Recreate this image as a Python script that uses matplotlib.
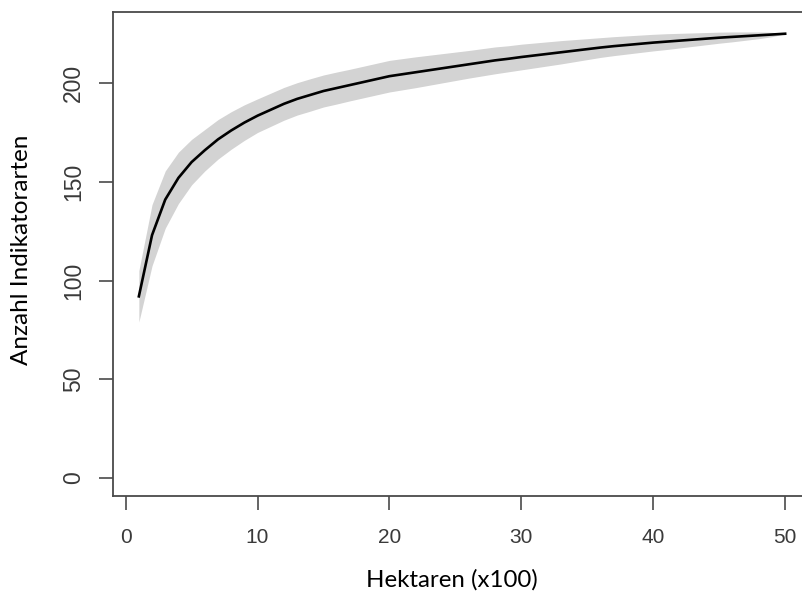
import numpy as np
import matplotlib.pyplot as plt

# Hektaren (x100)
hektaren = list(range(1, 51))

# mittlere Anzahl Indikatorarten
arten = [92, 123, 141, 152, 160, 166, 171.5, 176, 180, 183.5,
         186.5, 189.5, 192, 194, 196, 197.5, 199, 200.5, 202, 203.5,
         204.5, 205.5, 206.5, 207.5, 208.5, 209.5, 210.5, 211.5, 212.3, 213.2,
         214, 214.8, 215.6, 216.4, 217.2, 218, 218.7, 219.3, 219.9, 220.5,
         221, 221.5, 222, 222.5, 223, 223.4, 223.8, 224.2, 224.6, 225]

# Halbbreite des grauen Bandes
band = [13, 15.5, 14.5, 13, 11.5, 10.5, 10, 9.5, 9, 8.5,
        8.4, 8.3, 8.2, 8.2, 8.1, 8.1, 8, 8, 8, 8,
        7.9, 7.8, 7.6, 7.4, 7.2, 7.0, 6.9, 6.8, 6.6, 6.5,
        6.3, 6.1, 5.9, 5.6, 5.3, 5.0, 4.8, 4.6, 4.4, 4.2,
        4.0, 3.7, 3.4, 3.1, 2.8, 2.5, 2.1, 1.7, 1.1, 0]

x_ticks = [0, 10, 20, 30, 40, 50]
y_ticks = [0, 50, 100, 150, 200]


def main():
    x = np.array(hektaren)
    y = np.array(arten)
    sd = np.array(band)

    fig = plt.figure(figsize=(8.03, 5.93), dpi=100)
    ax = fig.add_axes([113 / 803, 1 - 496 / 593, (811 - 113) / 803, (496 - 12) / 593])

    ax.fill_between(x, y - sd, y + sd, color='#d3d3d3', linewidth=0)
    ax.plot(x, y, color='black', linewidth=1.9)

    ax.set_xlim(-0.96, 51.96)
    ax.set_ylim(-9.1, 236)
    ax.set_xticks(x_ticks)
    ax.set_yticks(y_ticks)

    for s in ax.spines.values():
        s.set_color('#4a4a4a')
        s.set_linewidth(1.3)
    # rechter Rand liegt ausserhalb des Bildes
    ax.spines['right'].set_visible(False)

    ax.tick_params(axis='both', direction='out', length=10, width=1.2,
                   color='#4a4a4a', labelcolor='#3a3a3a')
    ax.tick_params(axis='x', pad=13, labelsize=15)
    ax.tick_params(axis='y', pad=10, labelsize=16.5)
    for lab in ax.get_xticklabels() + ax.get_yticklabels():
        lab.set_family('Liberation Sans')
    for lab in ax.get_yticklabels():
        lab.set_rotation(90)
        lab.set_va('center')

    fig.text(22 / 803, 1 - 250 / 593, 'Anzahl Indikatorarten', rotation=90,
             ha='center', va='center', fontsize=17.5, family='Lato', color='black')
    fig.text(452 / 803, 1 - 580 / 593, 'Hektaren (x100)',
             ha='center', va='center', fontsize=17.3, family='Lato', color='black')

    fig.savefig('out.png', dpi=100)
    plt.close(fig)


if __name__ == '__main__':
    main()
